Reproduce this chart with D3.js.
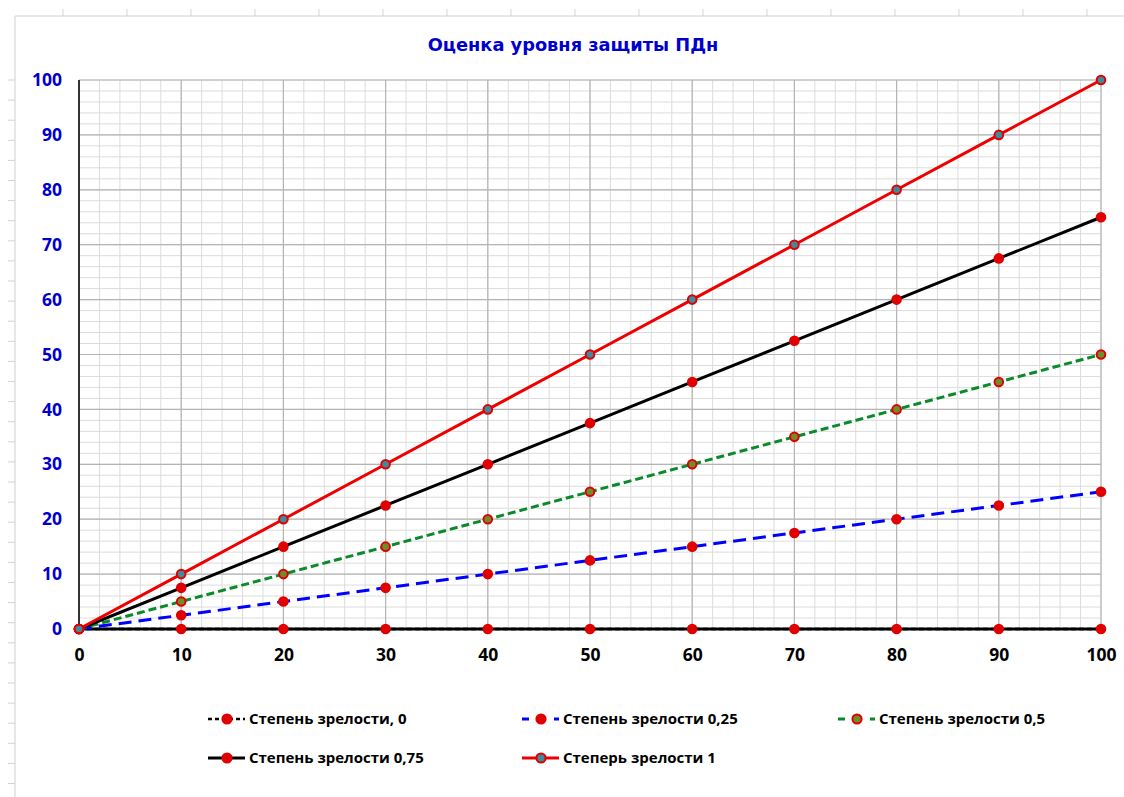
<!DOCTYPE html>
<html>
<head>
<meta charset="utf-8">
<script src="https://cdn.jsdelivr.net/npm/d3@7"></script>
<style>
  html, body { margin: 0; padding: 0; background: #ffffff; }
  svg { display: block; }
</style>
</head>
<body>
<svg id="chart" width="1124" height="797"></svg>
<script>
// ---------- data ----------
const xValues = [0, 10, 20, 30, 40, 50, 60, 70, 80, 90, 100];
const maturity0   = [0, 0, 0, 0, 0, 0, 0, 0, 0, 0, 0];
const maturity025 = [0, 2.5, 5, 7.5, 10, 12.5, 15, 17.5, 20, 22.5, 25];
const maturity05  = [0, 5, 10, 15, 20, 25, 30, 35, 40, 45, 50];
const maturity075 = [0, 7.5, 15, 22.5, 30, 37.5, 45, 52.5, 60, 67.5, 75];
const maturity1   = [0, 10, 20, 30, 40, 50, 60, 70, 80, 90, 100];
const seriesNames = ["Степень зрелости, 0", "Степень зрелости 0,25", "Степень зрелости 0,5", "Степень зрелости 0,75", "Степерь зрелости 1"];
const xTickValues = [0, 10, 20, 30, 40, 50, 60, 70, 80, 90, 100];
const yTickValues = [0, 10, 20, 30, 40, 50, 60, 70, 80, 90, 100];
const titleText = "Оценка уровня защиты ПДн";

// ---------- styles ----------
const seriesStyles = [
  { values: maturity0,   color: "#000000", dash: "5,3",  width: 2.5, markerFill: "#e00000" },
  { values: maturity025, color: "#0000ff", dash: "13,7", width: 3,   markerFill: "#e00000" },
  { values: maturity05,  color: "#0a8a2a", dash: "8,4",  width: 3,   markerFill: "#6e8e2e" },
  { values: maturity075, color: "#000000", dash: null,   width: 3,   markerFill: "#e00000" },
  { values: maturity1,   color: "#ee0000", dash: null,   width: 3,   markerFill: "#3f8a9c" }
];

const svg = d3.select("#chart");
const W = 1124, H = 797;

// spreadsheet background hints
const bg = svg.append("g");
for (let x = 63; x < W; x += 64) {
  bg.append("line").attr("x1", x).attr("x2", x).attr("y1", 9).attr("y2", 16)
    .attr("stroke", "#d4d4d4").attr("stroke-width", 1);
}
for (let y = 80; y < H; y += 20.1) {
  bg.append("line").attr("x1", 8).attr("x2", 15).attr("y1", y).attr("y2", y)
    .attr("stroke", "#d4d4d4").attr("stroke-width", 1);
}
bg.append("line").attr("x1", 15).attr("x2", W).attr("y1", 16).attr("y2", 16)
  .attr("stroke", "#d0d0d0").attr("stroke-width", 1);
bg.append("line").attr("x1", 15).attr("x2", 15).attr("y1", 16).attr("y2", H)
  .attr("stroke", "#d0d0d0").attr("stroke-width", 1);

// ---------- scales ----------
const x = d3.scaleLinear().domain([0, 100]).range([79, 1101]);
const y = d3.scaleLinear().domain([0, 100]).range([629, 80]);

// gridlines
const grid = svg.append("g");
const minorTicks = d3.range(0, 101, 2);
grid.selectAll(".vminor").data(minorTicks).join("line")
  .attr("x1", d => x(d)).attr("x2", d => x(d)).attr("y1", y(0)).attr("y2", y(100))
  .attr("stroke", "#dcdcdc").attr("stroke-width", 1);
grid.selectAll(".hminor").data(minorTicks).join("line")
  .attr("x1", x(0)).attr("x2", x(100)).attr("y1", d => y(d)).attr("y2", d => y(d))
  .attr("stroke", "#dcdcdc").attr("stroke-width", 1);
grid.selectAll(".vmajor").data(xTickValues).join("line")
  .attr("x1", d => x(d)).attr("x2", d => x(d)).attr("y1", y(0)).attr("y2", y(100))
  .attr("stroke", "#b4b4b4").attr("stroke-width", 1.2);
grid.selectAll(".hmajor").data(yTickValues).join("line")
  .attr("x1", x(0)).attr("x2", x(100)).attr("y1", d => y(d)).attr("y2", d => y(d))
  .attr("stroke", "#b4b4b4").attr("stroke-width", 1.2);

// axes lines
svg.append("line").attr("x1", x(0)).attr("x2", x(0)).attr("y1", y(100)).attr("y2", y(0))
  .attr("stroke", "#333").attr("stroke-width", 2);
svg.append("line").attr("x1", x(0)).attr("x2", x(100)).attr("y1", y(0)).attr("y2", y(0))
  .attr("stroke", "#000").attr("stroke-width", 3);

// axis labels via d3 axes
const xAxis = svg.append("g").attr("transform", `translate(0,${y(0) + 17})`)
  .call(d3.axisBottom(x).tickValues(xTickValues).tickSize(0).tickFormat(d3.format("d")));
xAxis.select(".domain").remove();
xAxis.selectAll("text").attr("font-family", "'Open Sans', sans-serif").attr("font-weight", "bold")
  .attr("font-size", 17.5).attr("fill", "#000").attr("dy", "0.71em");

const yAxis = svg.append("g").attr("transform", `translate(${x(0) - 14},0)`)
  .call(d3.axisLeft(y).tickValues(yTickValues).tickSize(0).tickFormat(d3.format("d")));
yAxis.select(".domain").remove();
yAxis.selectAll("text").attr("font-family", "'Open Sans', sans-serif").attr("font-weight", "bold")
  .attr("font-size", 17.5).attr("fill", "#0000cc");

// title
svg.append("text").attr("x", 573).attr("y", 51).attr("text-anchor", "middle")
  .attr("font-family", "'DejaVu Sans', Verdana, sans-serif").attr("font-weight", "bold")
  .attr("font-size", 17.8).attr("fill", "#0000cc").text(titleText);

// lines
const line = d3.line().x((d, i) => x(xValues[i])).y(d => y(d));
const linesG = svg.append("g");
seriesStyles.forEach(s => {
  linesG.append("path").datum(s.values).attr("d", line)
    .attr("fill", "none").attr("stroke", s.color).attr("stroke-width", s.width)
    .attr("stroke-dasharray", s.dash).attr("stroke-linejoin", "round");
});
const markersG = svg.append("g");
seriesStyles.forEach(s => {
  markersG.selectAll(null).data(s.values).join("circle")
    .attr("cx", (d, i) => x(xValues[i])).attr("cy", d => y(d)).attr("r", 4.3)
    .attr("fill", s.markerFill).attr("stroke", "#e00000").attr("stroke-width", 2);
});

// legend
const legendPos = [
  { x: 208, y: 719 }, { x: 522, y: 719 }, { x: 838, y: 719 },
  { x: 208, y: 758 }, { x: 522, y: 758 }
];
const legend = svg.append("g");
seriesStyles.forEach((s, i) => {
  const p = legendPos[i];
  const g = legend.append("g").attr("transform", `translate(${p.x},${p.y})`);
  g.append("line").attr("x1", 0).attr("x2", 37).attr("y1", 0).attr("y2", 0)
    .attr("stroke", s.color).attr("stroke-width", s.width)
    .attr("stroke-dasharray", s.dash ? (i === 0 ? "4,3" : "7,9") : null);
  g.append("circle").attr("cx", 19).attr("cy", 0).attr("r", 4.6)
    .attr("fill", s.markerFill).attr("stroke", "#e00000").attr("stroke-width", 2);
  g.append("text").attr("x", 41).attr("y", 0).attr("dy", "0.35em")
    .attr("font-family", "'Open Sans', sans-serif").attr("font-weight", "bold")
    .attr("font-size", 15).attr("fill", "#000").text(seriesNames[i]);
});
</script>
</body>
</html>
